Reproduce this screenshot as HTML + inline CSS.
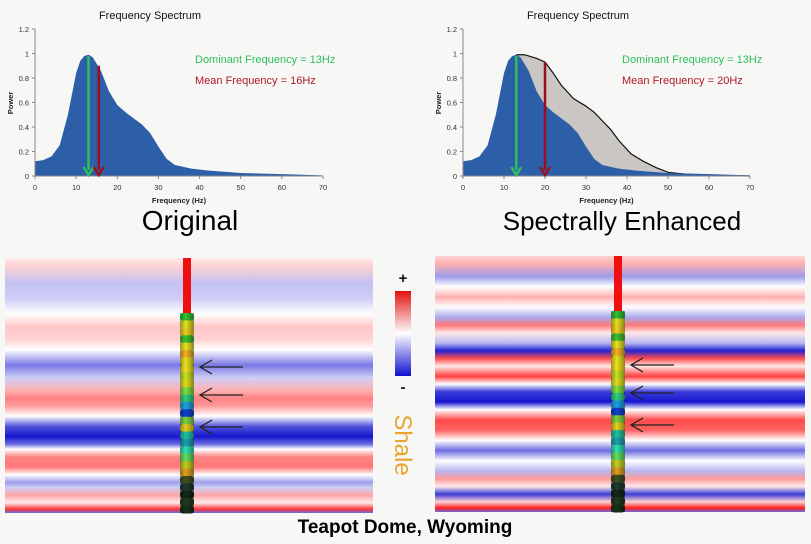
<!DOCTYPE html>
<html><head><meta charset="utf-8">
<style>
html,body{margin:0;padding:0;background:#f7f7f5;}
body{width:811px;height:544px;overflow:hidden;font-family:"Liberation Sans",sans-serif;}
svg{position:absolute;left:0;top:0;}
</style></head>
<body>
<svg id="root" width="811" height="544" viewBox="0 0 811 544">
<defs>
<linearGradient id="cbar" x1="0" y1="0" x2="0" y2="1">
<stop offset="0" stop-color="#e01010"/><stop offset="0.5" stop-color="#ffffff"/><stop offset="1" stop-color="#1010d0"/>
</linearGradient>
<linearGradient id="wellshade" x1="0" y1="0" x2="1" y2="0">
<stop offset="0" stop-color="#000" stop-opacity="0.35"/><stop offset="0.4" stop-color="#000" stop-opacity="0"/><stop offset="1" stop-color="#000" stop-opacity="0.4"/>
</linearGradient>
</defs>
<g id="charts"></g>
<g id="seis"></g>
<text x="405" y="533" text-anchor="middle" font-size="19" font-weight="bold" fill="#000">Teapot Dome, Wyoming</text>
</svg>
<script>
// ---- spectrum data ----
const freqOrig = [0,2,4,6,8,10,11,12,13,14,16,18,20,22,24,26,28,30,32,34,38,42,50,60,70];
const powerOrig = [0.12,0.13,0.16,0.25,0.5,0.84,0.94,0.98,0.99,0.97,0.86,0.69,0.58,0.52,0.47,0.42,0.35,0.24,0.14,0.09,0.06,0.045,0.025,0.015,0.005];
const freqEnh = [13,15,18,20,22,24,27,30,32,34,36,38,41,44,47,50,55,60,70];
const powerEnh = [0.99,0.99,0.96,0.93,0.84,0.74,0.63,0.57,0.52,0.45,0.38,0.29,0.18,0.12,0.07,0.03,0.012,0.006,0.0];
const yTicks = [0,0.2,0.4,0.6,0.8,1,1.2];
const yTickLabels = ["0","0.2","0.4","0.6","0.8","1","1.2"];
const xTicks = [0,10,20,30,40,50,60,70];
const dominantFreq = [13,13];
const meanFreq = [15.5,20];
const meanLabel = ["Mean Frequency = 16Hz","Mean Frequency = 20Hz"];
const panelTitle = ["Original","Spectrally Enhanced"];

// ---- seismic data: [position 0..1, amplitude -1..1] ----
const seisLeftPos = [0,0.03,0.1,0.16,0.22,0.27,0.32,0.36,0.42,0.47,0.52,0.55,0.58,0.62,0.66,0.7,0.73,0.75,0.78,0.82,0.85,0.88,0.9,0.93,0.96,0.985,1];
const seisLeftAmp = [0.1,0.2,-0.25,-0.2,0.0,0.25,0.2,0.0,-0.55,-0.2,0.35,0.55,0.45,0.0,-0.7,-0.95,-0.6,0.0,0.55,0.6,0.0,-0.4,-0.2,0.4,0.1,0.9,-0.6];
const seisRightPos = [0,0.03,0.08,0.12,0.16,0.2,0.24,0.27,0.3,0.34,0.37,0.4,0.43,0.47,0.5,0.53,0.57,0.6,0.64,0.68,0.72,0.76,0.8,0.84,0.87,0.9,0.93,0.96,0.985,1];
const seisRightAmp = [0.2,0.35,-0.4,0.0,0.35,0.0,-0.35,0.6,0.1,-0.3,-0.9,0.8,0.1,0.85,0.0,-0.8,-0.95,0.0,0.8,0.7,0.0,-0.6,0.0,-0.3,0.45,0.1,-0.8,0.2,1.0,-0.6];
const ringColors = ["#30c030","#e0e020","#f0d020","#40c030","#e8e020","#f0b020","#e8e020","#f0e020","#c8e020","#e0e020","#80e040","#30d080","#20a0e0","#1040d0","#80d040","#e0d020","#20c0a0","#20a0b0","#30e0b0","#60e060","#c0d020","#e0a020","#405020","#203830","#102818","#203820","#183018"];

const NS = "http://www.w3.org/2000/svg";
function mk(tag, attrs, parent){const e=document.createElementNS(NS,tag);for(const k in attrs)e.setAttribute(k,attrs[k]);parent.appendChild(e);return e;}

const charts = document.getElementById('charts');
const chartDefs = [{x0:35,x1:323,tx:150,lx:195,ttx:145},{x0:463,x1:750,tx:578,lx:622,ttx:622}];
const Y0 = 176, Y12 = 29;
chartDefs.forEach((c, ci) => {
  const g = mk('g', {}, charts);
  
  
  const sx = f => c.x0 + (f/70)*(c.x1-c.x0);
  const sy = p => Y0 - (p/1.2)*(Y0-Y12);
  const t = mk('text', {x:c.tx, y:19, 'text-anchor':'middle','font-size':11,fill:'#111'}, g);
  t.textContent = 'Frequency Spectrum';
  
  
  // enhanced area
  if (ci===1){
    let d = 'M'+sx(freqEnh[0])+','+sy(powerEnh[0]);
    for(let i=1;i<freqEnh.length;i++) d+=' L'+sx(freqEnh[i])+','+sy(powerEnh[i]);
    const back=[];
    for(let i=freqOrig.length-1;i>=0;i--) if(freqOrig[i]>=13) back.push(' L'+sx(freqOrig[i])+','+sy(powerOrig[i]));
    const ga = mk('path', {d:d+back.join('')+' Z', fill:'#c9c6c4'}, g);
    
    
    const gl = mk('path', {d:d, fill:'none', stroke:'#111','stroke-width':1.2}, g);
    
    
  }
  let d = 'M'+sx(0)+','+sy(0);
  for(let i=0;i<freqOrig.length;i++) d+=' L'+sx(freqOrig[i])+','+sy(powerOrig[i]);
  d+=' L'+sx(70)+','+sy(0)+' Z';
  const a = mk('path', {d:d, fill:'#2d5ea8'}, g);
  
  
  // axes
  const ax = mk('path', {d:'M'+c.x0+','+Y12+' L'+c.x0+','+Y0+' L'+c.x1+','+Y0, fill:'none', stroke:'#888','stroke-width':1}, g);
  
  
  yTicks.forEach((v,i)=>{
    mk('line',{x1:c.x0-3,x2:c.x0,y1:sy(v),y2:sy(v),stroke:'#888'},g);
    const tl = mk('text',{x:c.x0-6,y:sy(v)+3,'text-anchor':'end','font-size':7.5,fill:'#333'},g);
    tl.textContent = yTickLabels[i];
    
    
  });
  xTicks.forEach(v=>{
    mk('line',{x1:sx(v),x2:sx(v),y1:Y0,y2:Y0+3,stroke:'#888'},g);
    const tl = mk('text',{x:sx(v),y:Y0+14,'text-anchor':'middle','font-size':7.5,fill:'#333'},g);
    tl.textContent = v;
    
    
  });
  const xt = mk('text',{x:(c.x0+c.x1)/2,y:203,'text-anchor':'middle','font-size':7.5,'font-weight':'bold',fill:'#222'},g);
  xt.textContent='Frequency (Hz)';
  
  
  const yt = mk('text',{x:0,y:0,'text-anchor':'middle','font-size':7.5,'font-weight':'bold',fill:'#222',transform:'translate('+(c.x0-22)+',103) rotate(-90)'},g);
  yt.textContent='Power';
  
  
  // arrows
  function arrow(f, pTop, col, name){
    const x=sx(f);
    const ag = mk('g',{},g);
    
    
    mk('line',{x1:x,x2:x,y1:sy(pTop),y2:Y0-6,stroke:col,'stroke-width':2.5},ag);
    mk('path',{d:'M'+(x-5)+','+(Y0-9)+' L'+x+','+(Y0-1)+' L'+(x+5)+','+(Y0-9),fill:'none',stroke:col,'stroke-width':2.5},ag);
  }
  arrow(dominantFreq[ci], 0.98, '#2fbf5a', 'dominant-frequency-arrow');
  const mi = freqOrig.findIndex(f=>f>=meanFreq[ci]);
  const mp = ci===1 ? 0.93 : 0.9;
  arrow(meanFreq[ci], mp, '#9b1020', 'mean-frequency-arrow');
  const l1 = mk('text',{x:c.lx,y:63,'font-size':11,fill:'#2fbf5a'},g);
  l1.textContent='Dominant Frequency = 13Hz';
  
  
  const l2 = mk('text',{x:c.lx,y:84,'font-size':11,fill:'#b01828'},g);
  l2.textContent=meanLabel[ci];
  
  
  const pt = mk('text',{x:ci===0?190:622,y:230,'text-anchor':'middle','font-size':ci===0?28:26,fill:'#000'},g);
  pt.textContent = panelTitle[ci];
  
  
});

// ---- seismic panels ----
const seis = document.getElementById('seis');
const defs = document.querySelector('defs');
function ampColor(a){
  const t=Math.min(1,Math.abs(a));
  if(a>=0){return 'rgb(255,'+Math.round(255-225*t)+','+Math.round(255-225*t)+')';}
  return 'rgb('+Math.round(255-245*t)+','+Math.round(255-245*t)+','+Math.round(255-50*t)+')';
}
const panels=[{x:5,y:258,w:368,h:255,well:187,pos:seisLeftPos,amp:seisLeftAmp,name:'original-seismic-panel'},
              {x:435,y:256,w:370,h:256,well:618,pos:seisRightPos,amp:seisRightAmp,name:'enhanced-seismic-panel'}];
panels.forEach((p,pi)=>{
  const gr = mk('linearGradient',{id:'sg'+pi,x1:0,y1:0,x2:0,y2:1},defs);
  p.pos.forEach((o,i)=>mk('stop',{offset:o,'stop-color':ampColor(p.amp[i])},gr));
  const g = mk('g',{},seis);
  
  
  mk('rect',{x:p.x,y:p.y,width:p.w,height:p.h,fill:'url(#sg'+pi+')'},g);
  // well
  const wg = mk('g',{},g);
  
  
  const ringTop = p.y+55;
  mk('rect',{x:p.well-4,y:p.y,width:8,height:ringTop-p.y,fill:'#ee1010'},wg);
  const rh=(p.y+p.h-ringTop)/ringColors.length;
  ringColors.forEach((col,i)=>{
    mk('rect',{x:p.well-7,y:ringTop+i*rh,width:14,height:rh+0.5,rx:3,fill:col},wg);
  });
  mk('rect',{x:p.well-7,y:ringTop,width:14,height:p.y+p.h-ringTop,fill:'url(#wellshade)'},wg);
  // arrows
  [367,395,427].forEach((ay,i)=>{
    const ag = mk('g',{},g);
    
    
    const x0=p.well+13;
    mk('line',{x1:x0,x2:x0+43,y1:ay-(pi?2:0),y2:ay-(pi?2:0),stroke:'#222','stroke-width':1.3},ag);
    mk('path',{d:'M'+(x0+12)+','+(ay-(pi?2:0)-7)+' L'+x0+','+(ay-(pi?2:0))+' L'+(x0+12)+','+(ay-(pi?2:0)+7),fill:'none',stroke:'#222','stroke-width':1.3},ag);
  });
});
// colorbar
const cb = mk('g',{},seis);


mk('rect',{x:395,y:291,width:16,height:85,fill:'url(#cbar)'},cb);
const plus = mk('text',{x:403,y:283,'text-anchor':'middle','font-size':15,'font-weight':'bold',fill:'#111'},cb);
plus.textContent='+';


const minus = mk('text',{x:403,y:392,'text-anchor':'middle','font-size':15,'font-weight':'bold',fill:'#111'},cb);
minus.textContent='-';


const sh = mk('text',{x:0,y:0,'text-anchor':'middle','font-size':24,fill:'#e8a630',transform:'translate(395,445) rotate(90)'},seis);
sh.textContent='Shale';


</script>
</body></html>
